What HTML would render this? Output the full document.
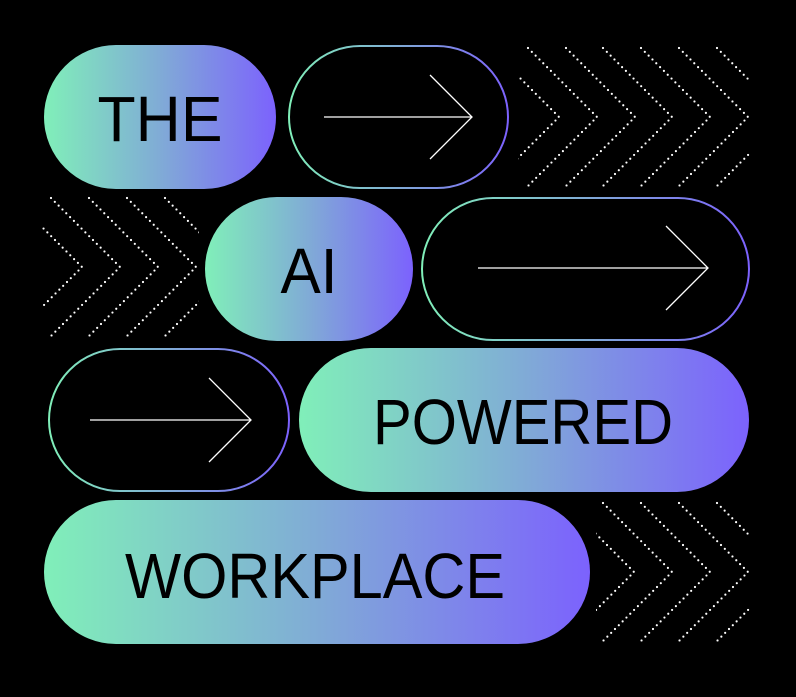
<!DOCTYPE html>
<html><head><meta charset="utf-8"><style>html,body{margin:0;padding:0;background:#000;}svg{display:block}</style></head>
<body>
<svg width="796" height="697" viewBox="0 0 796 697" xmlns="http://www.w3.org/2000/svg">
<defs>
<linearGradient id="g" x1="0" y1="0" x2="1" y2="0">
<stop offset="0" stop-color="#80efb9"/><stop offset="0.5" stop-color="#80abd6"/><stop offset="1" stop-color="#7c62fd"/>
</linearGradient>
<clipPath id="c1"><rect x="518" y="45" width="232" height="144"/></clipPath>
<clipPath id="c2"><rect x="42" y="195" width="157" height="144"/></clipPath>
<clipPath id="c3"><rect x="596" y="500" width="154" height="144"/></clipPath>
</defs>
<rect width="796" height="697" fill="#000"/>

<g fill="none" stroke="#fff" stroke-width="2.2" stroke-linecap="round" stroke-dasharray="0 5.4">
<g clip-path="url(#c1)">
<polyline points="490,48 559,117 490,186"/>
<polyline points="528,48 597,117 528,186"/>
<polyline points="566,48 635,117 566,186"/>
<polyline points="603,48 672,117 603,186"/>
<polyline points="641,48 710,117 641,186"/>
<polyline points="679,48 748,117 679,186"/>
<polyline points="717,48 786,117 717,186"/>
</g>
<g clip-path="url(#c2)">
<polyline points="13,198 82,267 13,336"/>
<polyline points="51,198 120,267 51,336"/>
<polyline points="89,198 158,267 89,336"/>
<polyline points="127,198 196,267 127,336"/>
<polyline points="165,198 234,267 165,336"/>
</g>
<g clip-path="url(#c3)">
<polyline points="565,503 634,572 565,641"/>
<polyline points="603,503 672,572 603,641"/>
<polyline points="641,503 710,572 641,641"/>
<polyline points="679,503 748,572 679,641"/>
<polyline points="717,503 786,572 717,641"/>
</g>
</g>

<g fill="url(#g)">
<rect x="44" y="45" width="232" height="144" rx="72"/>
<rect x="205" y="197" width="208" height="144" rx="72"/>
<rect x="299" y="348" width="450" height="144" rx="72"/>
<rect x="44" y="500" width="546" height="144" rx="72"/>
</g>
<g fill="none" stroke="url(#g)" stroke-width="2">
<rect x="289" y="46" width="219" height="142" rx="71"/>
<rect x="422" y="198" width="327" height="142" rx="71"/>
<rect x="49" y="349" width="240" height="142" rx="71"/>
</g>
<g fill="none" stroke="#fff" stroke-width="1.3">
<path d="M324 117H472M430 75L472 117L430 159"/>
<path d="M478 268H708M666 226L708 268L666 310"/>
<path d="M90 420H251M209 378L251 420L209 462"/>
</g>
<g font-family="Liberation Sans, sans-serif" font-size="64" fill="#000" text-anchor="middle">
<text x="160" y="141" textLength="125" lengthAdjust="spacingAndGlyphs">THE</text>
<text x="309" y="293" textLength="57" lengthAdjust="spacingAndGlyphs">AI</text>
<text x="523" y="444" textLength="300" lengthAdjust="spacingAndGlyphs">POWERED</text>
<text x="315" y="598" textLength="380" lengthAdjust="spacingAndGlyphs">WORKPLACE</text>
</g>
</svg>
</body></html>
